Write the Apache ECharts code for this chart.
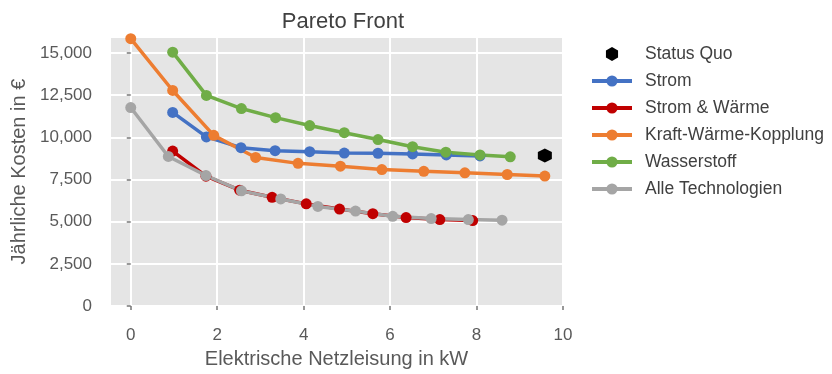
<!DOCTYPE html>
<html>
<head>
<meta charset="utf-8">
<script src="https://cdn.jsdelivr.net/npm/echarts@6/dist/echarts.min.js"></script>
<style>html,body{margin:0;padding:0;background:#fff}#c{width:832px;height:374px}</style>
</head>
<body>
<div id="c"></div>
<script>
// Data
const statusQuoX = [9.58];
const statusQuoY = [8930];

const stromX = [0.97, 1.75, 2.55, 3.34, 4.14, 4.94, 5.72, 6.52, 7.30, 8.08];
const stromY = [11480, 10030, 9390, 9210, 9150, 9070, 9060, 9020, 8960, 8900];

const stromWaermeX = [0.97, 1.74, 2.52, 3.27, 4.06, 4.83, 5.60, 6.37, 7.15, 7.91];
const stromWaermeY = [9190, 7700, 6870, 6450, 6060, 5750, 5480, 5250, 5130, 5070];

const kwkX = [0.0, 0.97, 1.92, 2.89, 3.87, 4.85, 5.81, 6.78, 7.73, 8.71, 9.58];
const kwkY = [15850, 12780, 10120, 8810, 8460, 8290, 8090, 7990, 7900, 7800, 7710];

const wasserX = [0.97, 1.75, 2.56, 3.35, 4.14, 4.94, 5.72, 6.52, 7.29, 8.08, 8.78];
const wasserY = [15050, 12490, 11710, 11170, 10700, 10280, 9870, 9450, 9120, 8960, 8850];

const alleX = [0.0, 0.87, 1.74, 2.56, 3.47, 4.33, 5.20, 6.06, 6.95, 7.81, 8.59];
const alleY = [11770, 8870, 7740, 6830, 6350, 5910, 5630, 5320, 5190, 5130, 5090];

const seriesNames = ['Status Quo', 'Strom', 'Strom & Wärme', 'Kraft-Wärme-Kopplung', 'Wasserstoff', 'Alle Technologien'];
const colors = ['#000000', '#4472C4', '#C00000', '#ED7D31', '#70AD47', '#A5A5A5'];

const zip = (xs, ys) => xs.map((x, i) => [x, ys[i]]);
const hexagon = 'path://M0,-1 L0.866,-0.5 L0.866,0.5 L0,1 L-0.866,0.5 L-0.866,-0.5 Z';
const FONT = 'Liberation Sans';

function lineSeries(name, xs, ys, color) {
  return {
    name: name, type: 'line', data: zip(xs, ys),
    symbol: 'circle', symbolSize: 11, showSymbol: true,
    lineStyle: { width: 3.5, color: color },
    itemStyle: { color: color },
    emphasis: { disabled: true }
  };
}

const chart = echarts.init(document.getElementById('c'), null, { renderer: 'canvas' });
chart.setOption({
  animation: false,
  textStyle: { fontFamily: FONT },
  title: {
    text: 'Pareto Front', left: 338, top: 6, textAlign: 'center',
    textStyle: { fontFamily: FONT, fontSize: 22, fontWeight: 'normal', color: '#404040' }
  },
  legend: {
    orient: 'vertical', left: 585, top: 40,
    itemWidth: 40, itemHeight: 14, itemGap: 9,
    lineStyle: { width: 4 },
    textStyle: { fontFamily: FONT, fontSize: 17.5, color: '#404040', padding: [0, 0, 0, 8] },
    data: seriesNames
  },
  grid: {
    left: 110, right: 269, top: 37, bottom: 64,
    show: true, backgroundColor: '#E5E5E5', borderWidth: 0
  },
  xAxis: {
    type: 'value', min: -0.48, max: 10, splitNumber: 5,
    name: 'Elektrische Netzleisung in kW', nameLocation: 'middle', nameGap: 40,
    nameTextStyle: { fontFamily: FONT, fontSize: 20, color: '#595959' },
    axisLine: { show: false },
    axisTick: { show: true, length: 4, lineStyle: { color: '#777', width: 1.5 } },
    axisLabel: {
      margin: 21, fontFamily: FONT, fontSize: 17, color: '#595959', showMinLabel: false,
      formatter: v => (Math.abs(v - Math.round(v)) < 1e-6 && Math.round(v) % 2 === 0) ? String(Math.round(v)) : ''
    },
    splitLine: { show: true, lineStyle: { color: '#FFFFFF', width: 2 } }
  },
  yAxis: {
    type: 'value', min: 0, max: 15950, interval: 2500,
    name: 'Jährliche Kosten in €', nameLocation: 'middle', nameGap: 80,
    nameTextStyle: { fontFamily: FONT, fontSize: 20, color: '#595959' },
    axisLine: { show: false },
    axisTick: { show: true, length: 4, lineStyle: { color: '#777', width: 1.5 } },
    axisLabel: {
      margin: 18, fontFamily: FONT, fontSize: 17, color: '#595959',
      formatter: v => (v % 2500 === 0) ? v.toLocaleString('en-US') : ''
    },
    splitLine: { show: true, lineStyle: { color: '#FFFFFF', width: 2 } }
  },
  series: [
    {
      name: seriesNames[0], type: 'scatter', data: zip(statusQuoX, statusQuoY),
      symbol: hexagon, symbolSize: 14, itemStyle: { color: colors[0], opacity: 1 }, emphasis: { disabled: true }
    },
    lineSeries(seriesNames[1], stromX, stromY, colors[1]),
    lineSeries(seriesNames[2], stromWaermeX, stromWaermeY, colors[2]),
    lineSeries(seriesNames[3], kwkX, kwkY, colors[3]),
    lineSeries(seriesNames[4], wasserX, wasserY, colors[4]),
    lineSeries(seriesNames[5], alleX, alleY, colors[5])
  ]
});
</script>
</body>
</html>
